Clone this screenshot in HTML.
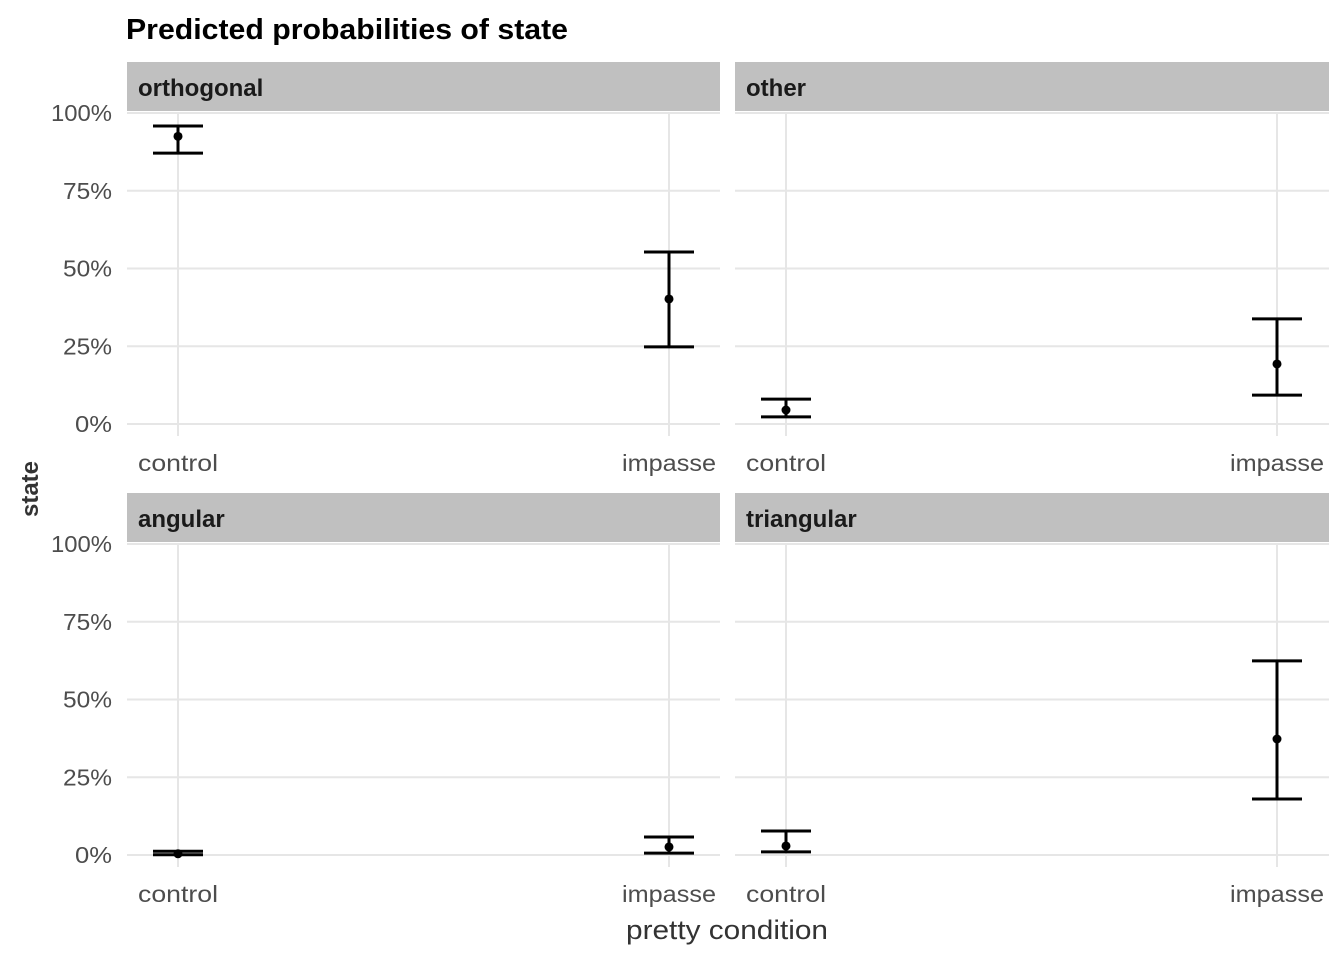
<!DOCTYPE html>
<html><head><meta charset="utf-8"><style>
html,body{margin:0;padding:0;background:#fff;}
svg text{font-family:"Liberation Sans",sans-serif;}
</style></head><body>
<svg id="chart" width="1344" height="960" xmlns="http://www.w3.org/2000/svg">
<text x="126" y="39" font-size="29" font-weight="bold" fill="#000" textLength="442" lengthAdjust="spacingAndGlyphs">Predicted probabilities of state</text>
<text transform="translate(38,489) rotate(-90)" text-anchor="middle" font-size="24" font-weight="bold" fill="#333">state</text>
<text x="727" y="939" text-anchor="middle" font-size="27" fill="#333" textLength="202" lengthAdjust="spacingAndGlyphs">pretty condition</text>
<g id="panels"></g>
</svg>
<script>
const panelNames = ["orthogonal","other","angular","triangular"];
const categories = ["control","impasse"];
const estimates = [[0.925,0.402],[0.045,0.193],[0.004,0.026],[0.029,0.373]];
const lowers = [[0.871,0.248],[0.023,0.093],[0.001,0.006],[0.010,0.180]];
const uppers = [[0.958,0.553],[0.080,0.338],[0.012,0.058],[0.077,0.624]];
const yTicks = [0,0.25,0.5,0.75,1];
const yTickLabels = ["0%","25%","50%","75%","100%"];

const NS="http://www.w3.org/2000/svg";
const g=document.getElementById("panels");
function mk(tag,attrs,parent){const e=document.createElementNS(NS,tag);for(const k in attrs)e.setAttribute(k,attrs[k]);(parent||g).appendChild(e);return e;}
const panelX=[[127,720],[735,1329]];
const panelY=[[113,424],[544,855]];
panelNames.forEach((name,i)=>{
  const col=i%2,row=Math.floor(i/2);
  const [x0,x1]=panelX[col];const [yTop,yBot]=panelY[row];
  const yS=v=>yBot-(yBot-yTop)*v;
  const xS=c=>x0+51+c*491;
  const strip=mk("rect",{x:x0,y:yTop-51,width:x1-x0,height:49,fill:"#c0c0c0"});
  
  
  const st=mk("text",{x:x0+11,y:yTop-17,"font-size":24,"font-weight":"bold",fill:"#1a1a1a"});
  st.textContent=name;
  
  
  yTicks.forEach((t,k)=>{
    const l=mk("line",{x1:x0,x2:x1,y1:yS(t),y2:yS(t),stroke:"#e6e6e6","stroke-width":2});
    
    
    if(col===0){
      const lab=yTickLabels[k];
      const tx=mk("text",{x:112,y:yS(t)+8,"text-anchor":"end","font-size":23,fill:"#4d4d4d",textLength:lab.length===4?61:(lab.length===3?49:37),lengthAdjust:"spacingAndGlyphs"});
      tx.textContent=lab;
      
      
    }
  });
  categories.forEach((c,j)=>{
    const x=xS(j);
    const l=mk("line",{x1:x,x2:x,y1:yTop,y2:yBot+12,stroke:"#e6e6e6","stroke-width":2});
    
    
    const tx=mk("text",{x:x,y:yBot+47,"text-anchor":"middle","font-size":23,fill:"#4d4d4d",textLength:c==="control"?80:94,lengthAdjust:"spacingAndGlyphs"});
    tx.textContent=c;
    
    
    const eb=mk("g",{stroke:"#000","stroke-width":3,fill:"none"});
    
    
    const lo=yS(lowers[i][j]),hi=yS(uppers[i][j]);
    mk("line",{x1:x,x2:x,y1:hi,y2:lo},eb);
    mk("line",{x1:x-25,x2:x+25,y1:hi,y2:hi},eb);
    mk("line",{x1:x-25,x2:x+25,y1:lo,y2:lo},eb);
    const p=mk("circle",{cx:x,cy:yS(estimates[i][j]),r:4.5,fill:"#000"});
    
    
  });
});
</script>
</body></html>
